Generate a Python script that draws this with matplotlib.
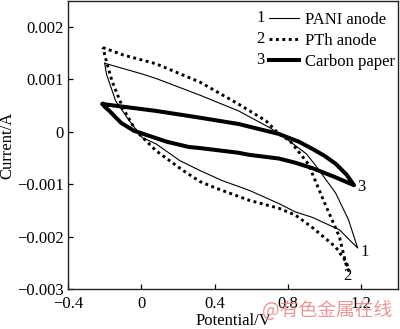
"""Cyclic voltammetry curves of PANI, PTh and carbon paper anodes."""

import numpy as np
import matplotlib
matplotlib.use("Agg")
import matplotlib.pyplot as plt

plt.rcParams["font.family"] = ["Liberation Serif", "DejaVu Serif"]
plt.rcParams["font.size"] = 12

# potential (V) and current (mA), forward branch then reverse branch
pani_v = [-0.20, -0.10, 0.00, 0.08, 0.20, 0.32, 0.53, 0.70, 0.79, 0.90, 0.95,
          1.06, 1.13, 1.18,
          1.08, 0.93, 0.84, 0.75, 0.59, 0.44, 0.32, 0.21, 0.08, 0.005,
          -0.065, -0.14, -0.19, -0.20]
pani_i = [1.31, 1.21, 1.11, 1.02, 0.86, 0.70, 0.40, 0.08, -0.13, -0.42, -0.64,
          -1.17, -1.68, -2.22,
          -1.87, -1.63, -1.53, -1.37, -1.12, -0.93, -0.74, -0.55, -0.23, -0.11,
          0.21, 0.59, 1.10, 1.31]

pth_v = [-0.21, -0.10, 0.08, 0.32, 0.53, 0.68, 0.75, 0.81, 0.91, 1.00, 1.08,
         1.12, 1.13,
         1.12, 1.06, 0.93, 0.84, 0.75, 0.59, 0.41, 0.32, 0.22, 0.08, -0.03,
         -0.10, -0.16, -0.19, -0.21]
pth_i = [1.61, 1.47, 1.30, 0.95, 0.53, 0.21, -0.04, -0.17, -0.61, -1.36, -2.00,
         -2.58, -2.65,
         -2.50, -2.20, -1.82, -1.59, -1.46, -1.31, -1.08, -0.95, -0.72, -0.36, 0.02,
         0.45, 0.97, 1.34, 1.61]

cp_v = [-0.21, 0.08, 0.32, 0.53, 0.75, 0.86, 0.93, 1.00, 1.06, 1.12, 1.16,
        1.06, 0.93, 0.84, 0.75, 0.59, 0.53, 0.32, 0.26, 0.14, 0.08, -0.04,
        -0.11, -0.174, -0.20, -0.21]
cp_i = [0.53, 0.40, 0.27, 0.15, -0.04, -0.19, -0.32, -0.46, -0.61, -0.82, -1.02,
        -0.87, -0.69, -0.59, -0.51, -0.44, -0.40, -0.31, -0.29, -0.19, -0.12, 0.02,
        0.17, 0.40, 0.48, 0.53]

labels = ["PANI anode", "PTh anode", "Carbon paper"]
numbers = ["1", "2", "3"]
x_ticks = [-0.4, 0, 0.4, 0.8, 1.2]
x_ticklabels = ["\u22120.4", "0", "0.4", "0.8", "1.2"]
y_ticks = [-0.003, -0.002, -0.001, 0, 0.001, 0.002]
y_ticklabels = ["\u22120.003", "\u22120.002", "\u22120.001", "0", "0.001", "0.002"]

fig = plt.figure(figsize=(4.0, 3.29), dpi=100)
ax = fig.add_axes([0.17, 0.122, 0.825, 0.875])

h1, = ax.plot(pani_v, np.array(pani_i) * 1e-3, color="black", lw=0.8)
h2, = ax.plot(pth_v, np.array(pth_i) * 1e-3, color="black", lw=2.1,
              linestyle=(0, (1, 1.2)))
h3, = ax.plot(cp_v, np.array(cp_i) * 1e-3, color="black", lw=2.9,
              solid_joinstyle="round")

# curve end labels
ax.text(pani_v[13] + 0.015, pani_i[13] * 1e-3 - 0.00008, "1", ha="left", va="center")
ax.text(pth_v[12] - 0.005, pth_i[12] * 1e-3 - 0.0001, "2", ha="center", va="center")
ax.text(cp_v[10] + 0.02, cp_i[10] * 1e-3 - 0.00004, "3", ha="left", va="center")

ax.set_xlim(-0.4, 1.4)
ax.set_ylim(-0.003, 0.0025)
ax.set_xticks(x_ticks)
ax.set_xticklabels(x_ticklabels)
ax.set_yticks(y_ticks)
ax.set_yticklabels(y_ticklabels)
ax.tick_params(direction="in", length=3.5, width=0.9, labelsize=12)
ax.tick_params(axis="x", pad=5)
ax.tick_params(axis="y", pad=3)
for sp in ax.spines.values():
    sp.set_linewidth(1.0)
    sp.set_color("#222222")

ax.set_xlabel("Potential/V", fontsize=12, labelpad=1)
ax.set_ylabel("Current/A", fontsize=12, labelpad=1)

leg = ax.legend([h1, h2, h3], labels, loc="upper right", frameon=False,
                fontsize=12, handlelength=1.8, handletextpad=0.35,
                labelspacing=0.3, borderaxespad=0.0, borderpad=0.2,
                bbox_to_anchor=(1.0, 0.975))

fig.canvas.draw()
renderer = fig.canvas.get_renderer()
inv = fig.transFigure.inverted()
for line, num in zip(leg.get_lines(), numbers):
    bb = line.get_window_extent(renderer)
    fx, fy = inv.transform((bb.x0 - 4, (bb.y0 + bb.y1) / 2))
    fig.text(fx, fy, num, ha="right", va="center", fontsize=12)

fig.text(0.655, 1 - 311 / 329, "@有色金属在线", fontsize=13.5, color="#e98585",
         alpha=0.85, ha="left", va="center",
         family=["Noto Sans CJK SC", "DejaVu Sans"])

fig.savefig("out.png", dpi=100)
plt.close(fig)
